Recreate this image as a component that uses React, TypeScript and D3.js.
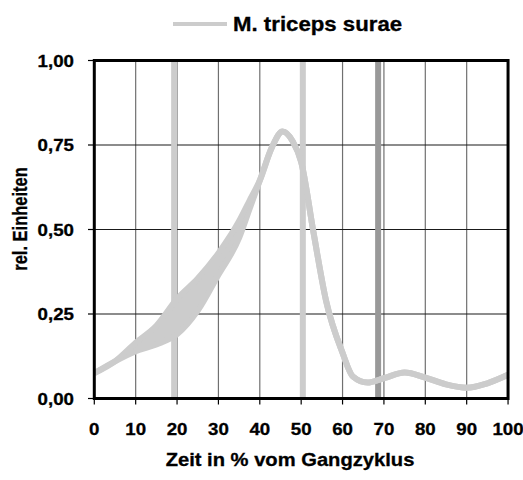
import React from "react";
import * as d3 from "d3";

const xValues = [0, 5, 10, 15, 20, 25, 30, 35, 37.5, 40, 43, 45.5, 48, 50, 53, 56, 60, 62.5, 66, 70, 75, 80, 85, 90, 95, 100];
const lowerValues = [0.075, 0.11, 0.14, 0.16, 0.19, 0.26, 0.366, 0.475, 0.56, 0.645, 0.745, 0.79, 0.76, 0.70, 0.49, 0.29, 0.135, 0.065, 0.047, 0.06, 0.077, 0.062, 0.042, 0.032, 0.045, 0.07];
const upperValues = [0.075, 0.11, 0.165, 0.215, 0.295, 0.355, 0.43, 0.525, 0.585, 0.645, 0.745, 0.79, 0.76, 0.70, 0.49, 0.29, 0.135, 0.065, 0.047, 0.06, 0.077, 0.062, 0.042, 0.032, 0.045, 0.07];
const markerPositions = [19.3, 50.4, 68.6];
const markerColors = ["#cccccc", "#cccccc", "#999999"];
const xTicks = [0, 10, 20, 30, 40, 50, 60, 70, 80, 90, 100];
const yTicks = [0, 0.25, 0.5, 0.75, 1];
const seriesName = "M. triceps surae";
const xTitle = "Zeit in % vom Gangzyklus";
const yTitle = "rel. Einheiten";

const W = 523;
const H = 480;
const left = 94.3;
const top = 60.5;
const bottom = 398.5;
const SX = 1.1;
const FONT = "'Liberation Sans', Arial, sans-serif";
const TXT = { fontFamily: FONT, fontWeight: "bold" as const, fill: "#000", stroke: "#000", strokeWidth: 0.3 };

export default function App() {
  const x = d3.scaleLinear().domain([0, 100]).range([left, left + 413.75]);
  const y = d3.scaleLinear().domain([0, 1]).range([bottom, top]);
  const pts = xValues.map((v, i) => ({ x: v, lo: lowerValues[i], up: upperValues[i] }));
  const lineLo = d3.line<any>().x(d => x(d.x)).y(d => y(d.lo)).curve(d3.curveMonotoneX);
  const lineUp = d3.line<any>().x(d => x(d.x)).y(d => y(d.up)).curve(d3.curveMonotoneX);
  const area = d3.area<any>().x(d => x(d.x)).y0(d => y(d.lo)).y1(d => y(d.up)).curve(d3.curveMonotoneX);
  const fmt = (v: number) => v.toFixed(2).replace(".", ",");

  return (
    <svg width={W} height={H} style={{ position: "absolute", left: 0, top: 0, background: "#fff" }}>
      <rect x={0} y={0} width={W} height={H} fill="#fff" />
      {/* legend */}
      <line x1={173} x2={227} y1={24} y2={24} stroke="#cccccc" strokeWidth={4} />
      <text transform={`translate(233,30.5) scale(1.14,1)`} {...TXT} fontSize={19.5}>{seriesName}</text>

      {/* gridlines */}
      {xTicks.filter(t => t > 0 && t < 100).map(t => (
        <line key={"gx" + t} x1={x(t)} x2={x(t)} y1={top} y2={bottom} stroke="#707070" strokeWidth={1.2} />
      ))}
      {yTicks.filter(t => t > 0 && t < 1).map(t => (
        <line key={"gy" + t} x1={left} x2={x(100)} y1={y(t)} y2={y(t)} stroke="#1a1a1a" strokeWidth={1.2} />
      ))}

      {/* markers */}
      {markerPositions.map((m, i) => (
        <line key={"m" + i} x1={x(m)} x2={x(m)} y1={top} y2={bottom} stroke={markerColors[i]} strokeWidth={6} />
      ))}

      {/* curve */}
      <path d={area(pts) || ""} fill="#cccccc" />
      <path d={lineLo(pts) || ""} fill="none" stroke="#cccccc" strokeWidth={6} />
      <path d={lineUp(pts) || ""} fill="none" stroke="#cccccc" strokeWidth={6} />

      {/* frame */}
      <rect x={left} y={top} width={x(100) - left} height={bottom - top} fill="none" stroke="#000" strokeWidth={3} />

      {/* y ticks */}
      {yTicks.map(t => (
        <g key={"yt" + t}>
          <line x1={88} x2={left} y1={y(t)} y2={y(t)} stroke="#000" strokeWidth={1.2} />
          <text transform={`translate(74,${y(t) + 6}) scale(${SX},1)`} textAnchor="end" {...TXT} fontSize={17}>{fmt(t)}</text>
        </g>
      ))}
      {/* x ticks */}
      {xTicks.map(t => (
        <g key={"xt" + t}>
          <line x1={x(t)} x2={x(t)} y1={bottom} y2={bottom + 6} stroke="#000" strokeWidth={1.2} />
          <text transform={`translate(${x(t)},435) scale(${SX},1)`} textAnchor="middle" {...TXT} fontSize={17}>{t}</text>
        </g>
      ))}

      <text transform={`translate(290,465.5) scale(1.12,1)`} textAnchor="middle" {...TXT} fontSize={18}>{xTitle}</text>
      <text transform={`translate(27,219) rotate(-90) scale(1,1.17)`} textAnchor="middle" {...TXT} fontSize={16.5}>{yTitle}</text>
    </svg>
  );
}
